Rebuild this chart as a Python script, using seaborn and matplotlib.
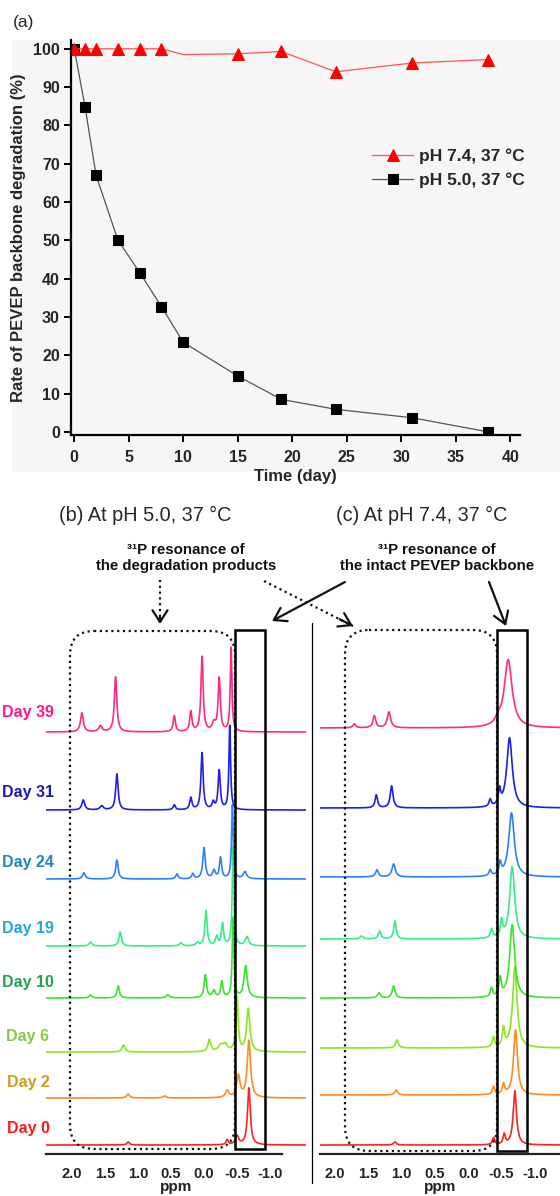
import numpy as np
import pandas as pd
import matplotlib
matplotlib.use("Agg")
import matplotlib.pyplot as plt
import seaborn as sns
from matplotlib.patches import FancyBboxPatch, Rectangle

sns.set_style("ticks")
plt.rcParams['font.family'] = ['Liberation Sans', 'DejaVu Sans']

# ---------------- panel (a) data ----------------
days = [0, 1, 2, 4, 6, 8, 10, 15, 19, 24, 31, 38]
rate_ph74 = [100, 100, 100, 100, 100, 100, 98.5, 98.7, 99.3, 94.0, 96.3, 97.2]
rate_ph50 = [100, 84.7, 67.0, 50.1, 41.6, 32.7, 23.4, 14.6, 8.5, 5.9, 3.7, 0.0]
marker_idx_ph74 = [0, 1, 2, 3, 4, 5, 7, 8, 9, 10, 11]
x_ticks_a = [0, 5, 10, 15, 20, 25, 30, 35, 40]
y_ticks_a = [0, 10, 20, 30, 40, 50, 60, 70, 80, 90, 100]

# ---------------- NMR spectra (ppm, height, half-width) ----------------
spec_days = ["Day 0", "Day 2", "Day 6", "Day 10", "Day 19", "Day 24", "Day 31", "Day 39"]
label_colors = ["#ff1a1a", "#cc9d1e", "#88c846", "#1fa34c", "#1ea6e8", "#1d88bd", "#1c1cab", "#ff1493"]
line_colors = ["#ff2020", "#ff8a1e", "#8ae61e", "#36e62a", "#38ec86", "#2a82ff", "#1e1ef0", "#ff2a80"]

b_day0 = [(1.15, 3, .025), (-0.35, 5, .02), (-0.50, 9, .03), (-0.68, 57, .025)]
b_day2 = [(1.15, 4, .025), (0.60, 2, .03), (-0.35, 7, .03), (-0.52, 22, .03), (-0.68, 57, .03)]
b_day6 = [(1.22, 7, .025), (-0.08, 12, .025), (-0.25, 6, .04), (-0.32, 7, .04), (-0.50, 55, .02), (-0.67, 43, .03)]
b_day10 = [(1.72, 3, .025), (1.30, 12, .022), (0.55, 3, .03), (-0.02, 23, .022), (-0.15, 7, .025),
           (-0.27, 16, .02), (-0.44, 80, .015), (-0.63, 32, .03)]
b_day19 = [(1.72, 4, .025), (1.27, 14, .022), (0.35, 3, .025), (0.10, 3, .025), (-0.03, 35, .02),
           (-0.19, 9, .02), (-0.28, 22, .02), (-0.44, 100, .015), (-0.65, 9, .03)]
b_day24 = [(1.82, 6, .025), (1.32, 19, .022), (0.41, 5, .02), (0.17, 5, .02), (0.0, 31, .022),
           (-0.15, 8, .025), (-0.25, 21, .02), (-0.43, 74, .015), (-0.62, 7, .03)]
b_day31 = [(1.83, 10, .025), (1.55, 4, .03), (1.32, 36, .022), (0.45, 5, .02), (0.20, 12, .02),
           (0.03, 57, .02), (-0.14, 7, .02), (-0.23, 39, .02), (-0.39, 84, .015)]
b_day39 = [(1.85, 19, .025), (1.57, 6, .03), (1.34, 55, .022), (0.45, 16, .02), (0.20, 20, .02),
           (0.03, 75, .02), (-0.15, 8, .03), (-0.23, 53, .02), (-0.41, 84, .015)]

c_day0 = [(1.10, 3, .025), (-0.38, 7, .02), (-0.54, 10, .02), (-0.70, 54, .03)]
c_day2 = [(1.08, 5, .025), (-0.38, 8, .02), (-0.53, 10, .02), (-0.71, 65, .035)]
c_day6 = [(1.07, 8, .025), (-0.38, 10, .02), (-0.53, 18, .02), (-0.70, 81, .04)]
c_day10 = [(1.34, 5, .025), (1.12, 12, .025), (-0.35, 9, .02), (-0.48, 18, .02), (-0.66, 73, .045)]
c_day19 = [(1.60, 3, .025), (1.33, 8, .022), (1.10, 18, .022), (-0.35, 9, .02), (-0.50, 16, .02), (-0.66, 72, .045)]
c_day24 = [(1.37, 7, .025), (1.12, 13, .03), (-0.33, 6, .02), (-0.48, 12, .02), (-0.65, 64, .05)]
c_day31 = [(1.38, 13, .022), (1.15, 22, .025), (-0.33, 7, .02), (-0.47, 15, .02), (-0.62, 70, .05)]
c_day39 = [(1.71, 4, .025), (1.41, 12, .025), (1.19, 16, .03), (-0.45, 5, .05), (-0.60, 68, .07)]

b_peaks = [b_day0, b_day2, b_day6, b_day10, b_day19, b_day24, b_day31, b_day39]
c_peaks = [c_day0, c_day2, c_day6, c_day10, c_day19, c_day24, c_day31, c_day39]
ppm_ticks = [2.0, 1.5, 1.0, 0.5, 0.0, -0.5, -1.0]

# stacking offsets (layout)
b_offsets = [9, 56, 102, 156, 208, 275, 344, 422]
c_offsets = [9, 59, 106, 156, 215, 277, 346, 426]

W, H = 560, 1196
fig = plt.figure(figsize=(W / 100, H / 100), dpi=100)
fig.patch.set_facecolor("white")


def fx(px):
    return px / W


def fy(py):
    return 1 - py / H


# light grey background behind panel (a)
fig.add_artist(Rectangle((fx(12), fy(472)), fx(548), 432 / H, transform=fig.transFigure,
                         facecolor="#f6f6f6", edgecolor="none", zorder=-5))

# ---------------- panel (a) ----------------
axa = fig.add_axes([fx(71), fy(435), fx(449), 395 / H])
axa.set_facecolor("none")
df50 = pd.DataFrame({"day": days, "rate": rate_ph50})
df74 = pd.DataFrame({"day": days, "rate": rate_ph74})
sns.lineplot(data=df50, x="day", y="rate", ax=axa, color="#555555", linewidth=0.9,
             marker="s", markersize=6.5, markerfacecolor="black", markeredgecolor="black",
             label="pH 5.0, 37 °C", estimator=None)
sns.lineplot(data=df74, x="day", y="rate", ax=axa, color="#ff5555", linewidth=0.9,
             marker="^", markersize=9, markerfacecolor="#ff0000", markeredgecolor="#ff0000",
             markevery=marker_idx_ph74, label="pH 7.4, 37 °C", estimator=None)
axa.set_xlim(-0.3, 40.9)
axa.set_ylim(-0.8, 102.3)
axa.set_xticks(x_ticks_a)
axa.set_yticks(y_ticks_a)
for s in ["top", "right"]:
    axa.spines[s].set_visible(False)
for s in ["left", "bottom"]:
    axa.spines[s].set_linewidth(1.6)
    axa.spines[s].set_color("black")
axa.tick_params(axis="both", direction="out", length=5, width=1.4, labelsize=11.5, color="black")
axa.tick_params(axis="x", pad=6)
axa.tick_params(axis="y", pad=3)
for t in axa.get_xticklabels() + axa.get_yticklabels():
    t.set_fontweight("bold")
axa.set_xlabel("Time (day)", fontsize=12, fontweight="bold", labelpad=3)
axa.set_ylabel("Rate of PEVEP backbone degradation (%)", fontsize=12, fontweight="bold", labelpad=5)
h, l = axa.get_legend_handles_labels()
leg = axa.legend(h[::-1], l[::-1], loc="upper left", bbox_to_anchor=(0.635, 0.765),
                 frameon=False, fontsize=12.5, handlelength=2.4, handletextpad=0.35, labelspacing=0.5)
for t in leg.get_texts():
    t.set_fontweight("bold")

# ---------------- panels (b) and (c) ----------------
def draw_stack(ax, peaks_list, offsets, xlim, bound):
    x = np.linspace(xlim[0], xlim[1], 1600)
    for peaks, off, col in zip(peaks_list, offsets, line_colors):
        y = np.full_like(x, float(off))
        for p0, hgt, w in peaks:
            y += hgt / (1 + ((x - p0) / w) ** 2)
        sns.lineplot(x=x, y=y, ax=ax, color=col, linewidth=1.2, sort=False, estimator=None)
    ax.set_xlim(*xlim)
    ax.set_ylim(0, 534)
    ax.set_facecolor("none")
    for s in ["top", "right", "left"]:
        ax.spines[s].set_visible(False)
    ax.spines["bottom"].set_linewidth(1.6)
    ax.spines["bottom"].set_color("#222222")
    ax.spines["bottom"].set_bounds(bound[0], bound[1])
    ax.set_yticks([])
    ax.set_xticks(ppm_ticks)
    ax.set_xticklabels([f"{v:.1f}" for v in ppm_ticks])
    ax.tick_params(axis="x", length=0, pad=9, labelsize=10.5, labelcolor="#222222")
    for t in ax.get_xticklabels():
        t.set_fontweight("bold")
    ax.set_xlabel("ppm", fontsize=11, fontweight="bold", labelpad=0, color="#222222")


axb = fig.add_axes([fx(46), fy(1154), fx(260), 534 / H])
draw_stack(axb, b_peaks, b_offsets, (2.394, -1.545), (2.394, -1.18))
axc = fig.add_axes([fx(320), fy(1154), fx(240), 534 / H])
draw_stack(axc, c_peaks, c_offsets, (2.225, -1.378), (2.225, -1.378))

# ---------------- overlay annotations ----------------
ov = fig.add_axes([0, 0, 1, 1])
ov.set_xlim(0, W)
ov.set_ylim(H, 0)
ov.axis("off")
ov.patch.set_alpha(0)

ov.text(13, 22, "(a)", fontsize=12.5, ha="left", va="center")
ov.text(145, 515, "(b) At pH 5.0, 37 °C", fontsize=14.3, ha="center", va="center")
ov.text(422, 515, "(c) At pH 7.4, 37 °C", fontsize=14.3, ha="center", va="center")
ov.text(186, 558, "³¹P resonance of\nthe degradation products", fontsize=10.8, fontweight="bold",
        ha="center", va="center", linespacing=1.15, color="#111111")
ov.text(437, 558, "³¹P resonance of\nthe intact PEVEP backbone", fontsize=10.8, fontweight="bold",
        ha="center", va="center", linespacing=1.15, color="#111111")

day_y = [1128, 1082, 1037, 982, 929, 862, 793, 712]
for name, yy, col in zip(spec_days, day_y, label_colors):
    ov.text(28, yy, name, fontsize=11.5, fontweight="bold", color=col, ha="center", va="center")

dot = (0, (1, 1.6))
ov.add_patch(FancyBboxPatch((70, 631), 165, 518, boxstyle="round,pad=0,rounding_size=24",
                            fill=False, linestyle=dot, linewidth=1.6, edgecolor="#111111"))
ov.add_patch(FancyBboxPatch((345, 630), 152, 521, boxstyle="round,pad=0,rounding_size=24",
                            fill=False, linestyle=dot, linewidth=1.6, edgecolor="#111111"))
ov.add_patch(Rectangle((235, 630), 30, 519, fill=False, linewidth=1.8, edgecolor="black"))
ov.add_patch(Rectangle((497, 630), 30, 521, fill=False, linewidth=1.8, edgecolor="black"))
ov.plot([312, 312], [623, 1183], color="black", linewidth=0.9)


def arrow(x0, y0, x1, y1, dotted):
    if dotted:
        ov.plot([x0, x1], [y0, y1], color="#111111", linewidth=1.6, linestyle=dot)
    f = 0.85 if dotted else 0.0
    ov.annotate("", xy=(x1, y1), xytext=(x0 + (x1 - x0) * f, y0 + (y1 - y0) * f),
                arrowprops=dict(arrowstyle="->,head_length=0.7,head_width=0.45", color="#111111",
                                linewidth=1.6, mutation_scale=12, shrinkA=0, shrinkB=0))


arrow(160, 580, 160, 624, True)
arrow(264, 581, 353, 626, True)
arrow(345, 582, 272, 621, False)
arrow(489, 582, 506, 626, False)

fig.savefig("out.png", dpi=100)
